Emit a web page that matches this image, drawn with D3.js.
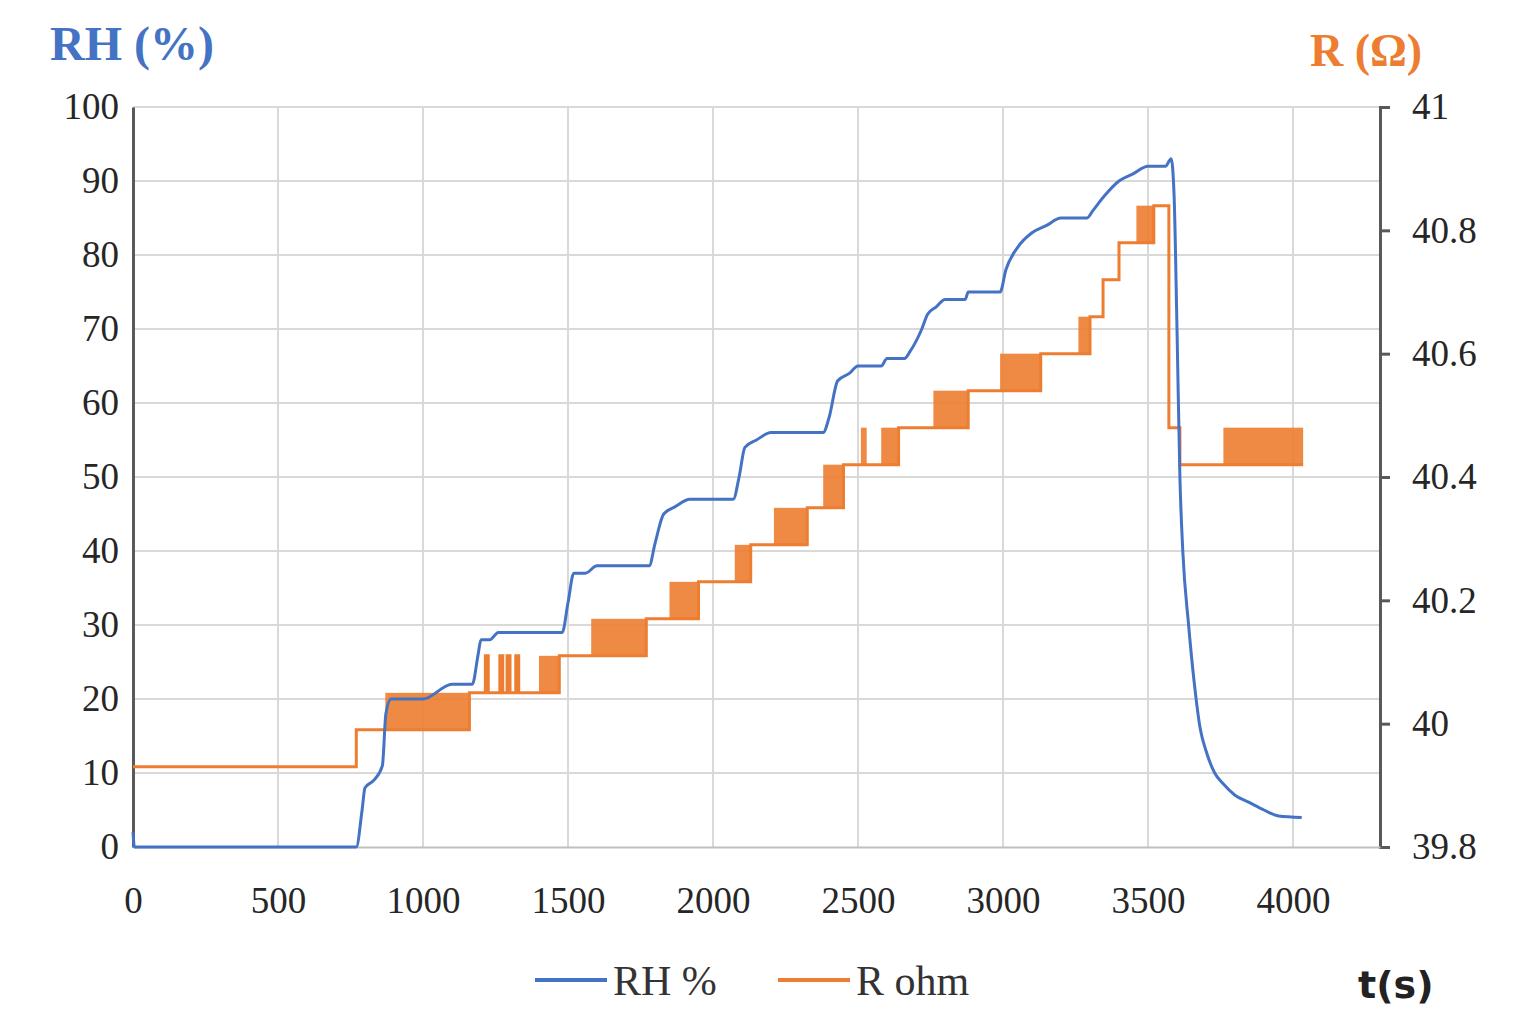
<!DOCTYPE html>
<html><head><meta charset="utf-8">
<script src="https://cdn.jsdelivr.net/npm/d3@7"></script>
<style>body{margin:0;background:#fff}</style></head>
<body><svg id="c" width="1520" height="1034"></svg>
<script>
const xTicks=[0,500,1000,1500,2000,2500,3000,3500,4000];
const rhTicks=[0,10,20,30,40,50,60,70,80,90,100];
const rTicks=[39.8,40,40.2,40.4,40.6,40.8,41];
const rTickLabels=["39.8","40","40.2","40.4","40.6","40.8","41"];
// RH % series [t, RH]
const rhT=[0,5,10,770,790,800,830,860,872,890,920,1000,1100,1170,1190,1200,1230,1260,1480,1500,1520,1560,1600,1780,1800,1830,1870,1920,2070,2090,2110,2150,2200,2380,2400,2430,2470,2500,2580,2600,2660,2680,2720,2740,2770,2800,2870,2880,2990,3010,3050,3100,3150,3200,3290,3310,3350,3400,3450,3500,3560,3580,3590,3600,3610,3620,3640,3660,3680,3700,3730,3760,3800,3850,3900,3950,4030];
const rhV=[2,0,0,0,5,8,9,11,18,20,20,20,22,22,26,28,28,29,29,33,37,37,38,38,41,45,46,47,47,50,54,55,56,56,58,63,64,65,65,66,66,67,70,72,73,74,74,75,75,78,81,83,84,85,85,86,88,90,91,92,92,93,88,70,50,40,30,22,16,13,10,8.5,7,6,5,4.2,4];
// R ohm steps [t, R]
const rT=[0,770,870,1160,1215,1225,1265,1275,1290,1300,1320,1330,1400,1470,1580,1770,1850,1950,2075,2130,2210,2325,2380,2450,2510,2530,2580,2640,2760,2880,2990,3130,3260,3300,3345,3400,3460,3520,3570,3572,3595,3610,3760,4035];
const rV=[39.93,39.99,39.99,40.05,40.11,40.05,40.11,40.05,40.11,40.05,40.11,40.05,40.05,40.11,40.11,40.17,40.17,40.23,40.23,40.29,40.29,40.35,40.35,40.42,40.42,40.42,40.42,40.48,40.48,40.54,40.54,40.60,40.60,40.66,40.72,40.78,40.78,40.84,40.84,40.48,40.48,40.42,40.42,40.42];
// dense oscillation bursts [tStart, tEnd, low, high]
const burstStart=[870,1400,1580,1850,2075,2210,2380,2510,2580,2760,2990,3260,3460,3760];
const burstEnd=[1160,1470,1770,1950,2130,2325,2450,2530,2640,2880,3130,3300,3520,4035];
const burstLo=[39.99,40.05,40.11,40.17,40.23,40.29,40.35,40.42,40.42,40.48,40.54,40.60,40.78,40.42];
const burstHi=[40.05,40.11,40.17,40.23,40.29,40.35,40.42,40.48,40.48,40.54,40.60,40.66,40.84,40.48];

const svg=d3.select("#c");
const L=133,R=1380,T=107,B=847;
const x=d3.scaleLinear().domain([0,4300]).range([L,R]);
const y=d3.scaleLinear().domain([0,100]).range([B,T]);
const y2=d3.scaleLinear().domain([39.8,41]).range([B,T]);
const blue="#4472C4",orange="#ED7D31",ax="#595959";
const serif="'Liberation Serif','DejaVu Serif',serif";
svg.append("g").selectAll("line").data(xTicks.slice(1)).join("line")
 .attr("x1",d=>x(d)).attr("x2",d=>x(d)).attr("y1",T).attr("y2",B).attr("stroke","#d9d9d9").attr("stroke-width",2);
svg.append("g").selectAll("line").data(rhTicks.slice(1)).join("line")
 .attr("x1",L).attr("x2",R).attr("y1",d=>y(d)).attr("y2",d=>y(d)).attr("stroke","#d9d9d9").attr("stroke-width",2);
const gl=svg.append("g").attr("transform",`translate(${L},0)`).call(d3.axisLeft(y).tickValues(rhTicks).tickSize(0).tickPadding(14));
const gr=svg.append("g").attr("transform",`translate(${R},0)`).call(d3.axisRight(y2).tickValues(rTicks).tickFormat((d,i)=>rTickLabels[i]).tickSize(10).tickPadding(22));
const gb=svg.append("g").attr("transform",`translate(0,${B})`).call(d3.axisBottom(x).tickValues(xTicks).tickFormat(d3.format("d")).tickSize(0).tickPadding(40));
[gl,gr,gb].forEach(g=>{g.selectAll("text").attr("font-family",serif).attr("font-size",37).attr("fill","#262626");
 g.selectAll("path,line").attr("stroke",ax).attr("stroke-width",3);});
gb.select("path").attr("stroke","#bfbfbf").attr("stroke-width",2);
svg.append("g").selectAll("rect").data(burstStart).join("rect")
 .attr("x",(d,i)=>x(d)).attr("width",(d,i)=>x(burstEnd[i])-x(d))
 .attr("y",(d,i)=>y2(burstHi[i])).attr("height",(d,i)=>y2(burstLo[i])-y2(burstHi[i]))
 .attr("fill",orange).attr("opacity",0.9);
const rPts=rT.map((t,i)=>[t,rV[i]]);
svg.append("path").datum(rPts).attr("fill","none").attr("stroke",orange).attr("stroke-width",3)
 .attr("d",d3.line().x(d=>x(d[0])).y(d=>y2(d[1])).curve(d3.curveStepAfter));
const rhPts=rhT.map((t,i)=>[t,rhV[i]]);
svg.append("path").datum(rhPts).attr("fill","none").attr("stroke",blue).attr("stroke-width",3)
 .attr("d",d3.line().x(d=>x(d[0])).y(d=>y(d[1])).curve(d3.curveMonotoneX));
svg.append("text").attr("x",50).attr("y",60).text("RH (%)").attr("font-family",serif).attr("font-weight","bold").attr("font-size",48).attr("fill",blue);
svg.append("text").attr("x",1310).attr("y",66).text("R (Ω)").attr("font-family",serif).attr("font-weight","bold").attr("font-size",46).attr("fill",orange);
svg.append("text").attr("x",1358).attr("y",998).text("t(s)").attr("font-family","'DejaVu Sans',sans-serif").attr("font-weight","bold").attr("font-size",38).attr("fill","#222");
const leg=[["RH %",blue,535],["R ohm",orange,778]];
leg.forEach(([t,c,lx])=>{svg.append("line").attr("x1",lx).attr("x2",lx+72).attr("y1",980).attr("y2",980).attr("stroke",c).attr("stroke-width",4);
 svg.append("text").attr("x",lx+78).attr("y",995).text(t).attr("font-family",serif).attr("font-size",42).attr("fill","#333");});
</script></body></html>
